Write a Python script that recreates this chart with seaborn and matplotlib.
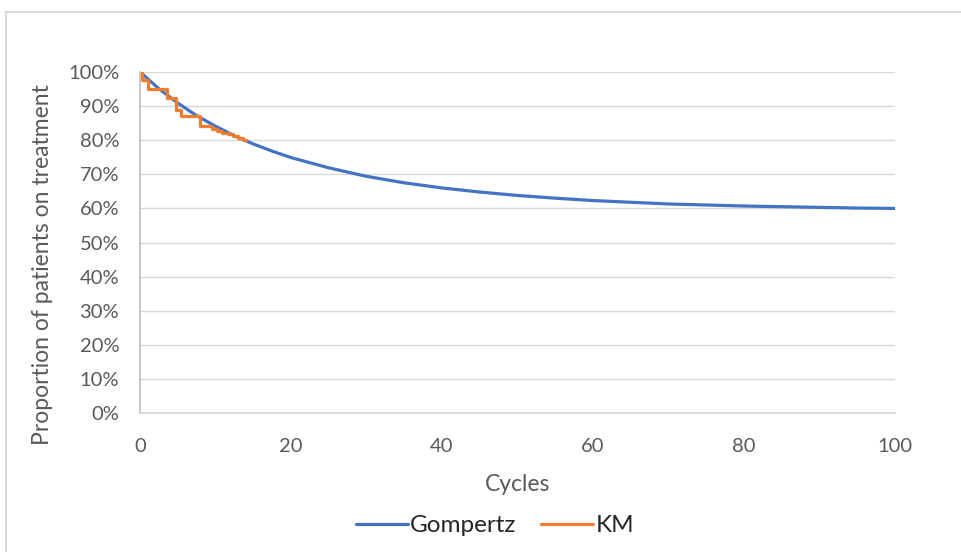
import numpy as np
import pandas as pd
import matplotlib.pyplot as plt
import seaborn as sns
from matplotlib.ticker import PercentFormatter
from matplotlib.patches import Rectangle

# Gompertz fit, values (proportion %)
gomp_cycles = [0, 2.5, 5, 7.5, 10, 12.5, 15, 17.5, 20, 25, 30, 35, 40, 45, 50,
               55, 60, 65, 70, 75, 80, 85, 90, 95, 100]
gomp_values = [100, 95.1, 90.9, 87.2, 84.1, 81.3, 78.9, 76.8, 74.9, 71.9, 69.4,
               67.5, 66.0, 64.8, 63.8, 63.0, 62.3, 61.8, 61.3, 61.0, 60.7,
               60.5, 60.3, 60.1, 60.0]

# Kaplan-Meier steps
km_cycles = [0, 0.3, 1.0, 3.6, 4.8, 5.4, 7.9, 9.5, 10.2, 10.9, 11.6, 12.3, 13.0, 13.7, 14.0]
km_values = [100, 97.6, 95.0, 92.3, 89.0, 87.0, 84.2, 83.4, 82.8, 82.2, 81.7,
             81.2, 80.7, 80.2, 80.2]

y_ticks = list(range(0, 101, 10))
x_ticks = [0, 20, 40, 60, 80, 100]

sns.set_theme(style="white")
plt.rcParams['font.family'] = ['Lato', 'DejaVu Sans']

gomp = pd.DataFrame({'Cycles': gomp_cycles, 'value': gomp_values})
km = pd.DataFrame({'Cycles': km_cycles, 'value': km_values})

fig = plt.figure(figsize=(9.62, 5.52), dpi=100)
ax = fig.add_axes([140 / 962, 1 - 413 / 552, 755 / 962, 341 / 552])

# chart area border
fig.patches.append(Rectangle((6 / 962, -0.05), 1.2, 1 - 12 / 552 + 0.05,
                             transform=fig.transFigure, fill=False,
                             edgecolor='#d9d9d9', linewidth=1.5))

sns.lineplot(data=gomp, x='Cycles', y='value', ax=ax, color='#4472C4',
             linewidth=2.3, label='Gompertz')
sns.lineplot(data=km, x='Cycles', y='value', ax=ax, color='#ED7D31',
             linewidth=2.3, label='KM', drawstyle='steps-post')

ax.set_xlim(0, 100)
ax.set_ylim(0, 100)
ax.set_xticks(x_ticks)
ax.set_yticks(y_ticks)
ax.yaxis.set_major_formatter(PercentFormatter(decimals=0))
ax.grid(axis='y', color='#d9d9d9', linewidth=1)
ax.set_axisbelow(True)
for s in ['top', 'right']:
    ax.spines[s].set_visible(False)
ax.spines['left'].set_color('#bfbfbf')
ax.spines['bottom'].set_color('#d9d9d9')
ax.tick_params(axis='both', colors='#595959', labelsize=14.5, length=0)
ax.tick_params(axis='x', pad=18)
ax.tick_params(axis='y', pad=15)

ax.set_xlabel('Cycles', fontsize=16.5, color='#595959', labelpad=14)
ax.set_ylabel('Proportion of patients on treatment', fontsize=16.5,
              color='#595959')
ax.yaxis.set_label_coords(-0.115, 0.435)

ax.legend(loc='upper center', bbox_to_anchor=(0.47, -0.235), ncol=2,
          frameon=False, fontsize=17.5, handlelength=2.15, handletextpad=0.1,
          columnspacing=1.0)

fig.savefig('out.png', dpi=100)
